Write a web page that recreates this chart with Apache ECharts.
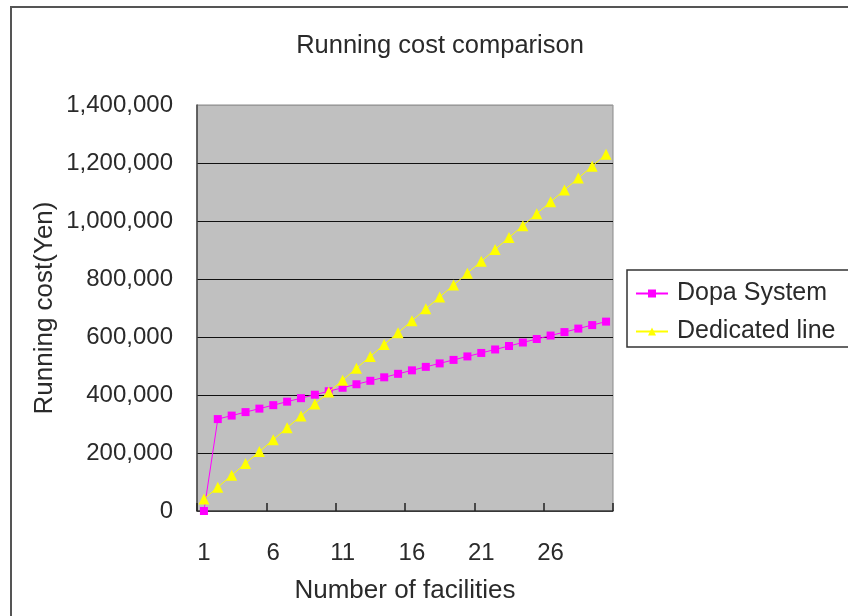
<!DOCTYPE html>
<html>
<head>
<meta charset="utf-8">
<script src="https://cdn.jsdelivr.net/npm/echarts@6/dist/echarts.min.js"></script>
<style>
  html, body { margin: 0; padding: 0; background: #fff; }
  #main { width: 848px; height: 616px; }
</style>
</head>
<body>
<div id="main"></div>
<script>
const facilities = ['1', '2', '3', '4', '5', '6', '7', '8', '9', '10',
  '11', '12', '13', '14', '15', '16', '17', '18', '19', '20',
  '21', '22', '23', '24', '25', '26', '27', '28', '29', '30'];

const dopaSystem = [0, 317000, 329000, 341000, 353000, 365000, 377000, 389000, 401000, 413000,
  425000, 437000, 449000, 461000, 473000, 485000, 497000, 509000, 521000, 533000,
  545000, 557000, 569000, 581000, 593000, 605000, 617000, 629000, 641000, 653000];

const dedicatedLine = [41000, 82000, 123000, 164000, 205000, 246000, 287000, 328000, 369000, 410000,
  451000, 492000, 533000, 574000, 615000, 656000, 697000, 738000, 779000, 820000,
  861000, 902000, 943000, 984000, 1025000, 1066000, 1107000, 1148000, 1189000, 1230000];

const seriesNames = ['Dopa System', 'Dedicated line'];

const font = 'Liberation Sans';
const txt = '#2a2a2a';

let myChart = echarts.init(document.getElementById('main'));
let option = {
  animation: false,
  backgroundColor: '#fff',
  title: {
    text: 'Running cost comparison',
    left: 435,
    textAlign: 'center',
    top: 28,
    textStyle: { color: txt, fontSize: 25.5, fontWeight: 'normal', fontFamily: font }
  },
  graphic: [
    {
      type: 'rect',
      shape: { x: 11, y: 7, width: 1000, height: 1000 },
      style: { fill: 'none', stroke: '#555', lineWidth: 2 },
      silent: true
    }
  ],
  legend: {
    orient: 'vertical',
    left: 627,
    top: 270,
    padding: [11, 40, 3, 8],
    itemGap: 13,
    itemWidth: 32,
    itemHeight: 10,
    borderColor: '#333',
    borderWidth: 1.5,
    textStyle: { color: txt, fontSize: 25, fontFamily: font, lineHeight: 24, padding: [0, 0, 0, 4] },
    data: seriesNames
  },
  grid: {
    left: 197,
    top: 105,
    right: 235,
    bottom: 105,
    show: true,
    backgroundColor: '#c0c0c0',
    borderColor: '#8a8a8a',
    borderWidth: 1
  },
  xAxis: {
    type: 'category',
    data: facilities,
    boundaryGap: true,
    name: 'Number of facilities',
    nameLocation: 'middle',
    nameGap: 67,
    nameTextStyle: { color: txt, fontSize: 26, fontFamily: font },
    axisLine: { lineStyle: { color: '#444', width: 1.5 } },
    axisTick: { show: true, inside: true, length: 8, interval: 4, lineStyle: { color: '#222', width: 1.5 } },
    axisLabel: { interval: 4, margin: 30, color: txt, fontSize: 24, fontFamily: font },
    splitLine: { show: false }
  },
  yAxis: {
    type: 'value',
    min: 0,
    max: 1400000,
    interval: 200000,
    name: 'Running cost(Yen)',
    nameLocation: 'middle',
    nameGap: 139,
    nameTextStyle: { color: txt, fontSize: 26, fontFamily: font },
    axisLine: { show: true, lineStyle: { color: '#444', width: 1.5 } },
    axisTick: { show: false },
    axisLabel: {
      margin: 24,
      color: txt,
      fontSize: 24,
      fontFamily: font,
      formatter: v => v.toLocaleString('en-US')
    },
    splitLine: {
      lineStyle: {
        color: ['#111', '#111', '#111', '#111', '#111', '#111', '#111', '#9a9a9a'],
        width: 1.2
      }
    }
  },
  series: [
    {
      name: seriesNames[0],
      type: 'line',
      data: dopaSystem,
      symbol: 'rect',
      symbolSize: 8,
      showAllSymbol: true,
      itemStyle: { color: '#ff00ff' },
      lineStyle: { color: '#ff00ff', width: 1 },
      z: 3
    },
    {
      name: seriesNames[1],
      type: 'line',
      data: dedicatedLine,
      symbol: 'triangle',
      symbolSize: 11,
      showAllSymbol: true,
      itemStyle: { color: '#ffff00' },
      lineStyle: { color: '#ffff00', width: 1 },
      z: 4
    }
  ]
};

option && myChart.setOption(option);
</script>
</body>
</html>
